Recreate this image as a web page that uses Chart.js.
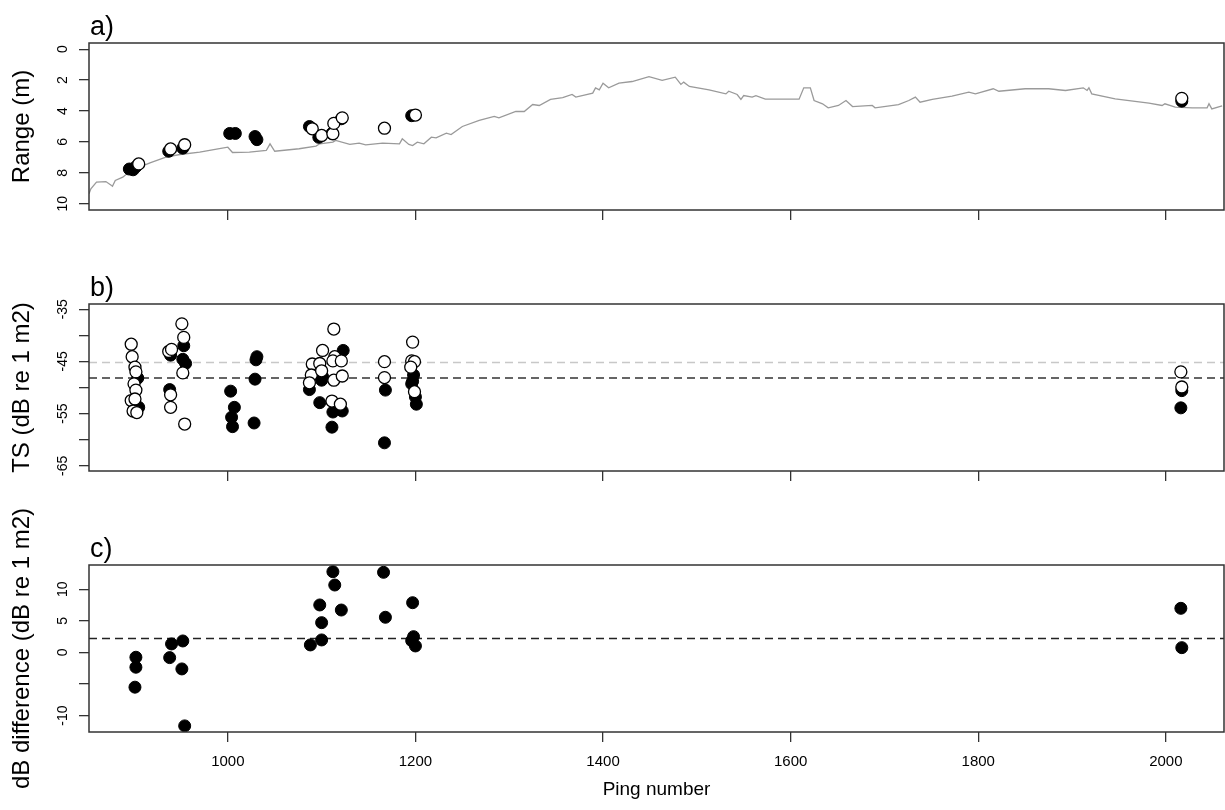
<!DOCTYPE html>
<html>
<head>
<meta charset="utf-8">
<script src="https://cdn.jsdelivr.net/npm/chart.js@4.4.1/dist/chart.umd.min.js"></script>
<style>
  html, body { margin: 0; padding: 0; background: #fff; }
  #wrap { position: relative; width: 1225px; height: 810px; }
  canvas { position: absolute; left: 0; top: 0; }
</style>
</head>
<body>
<div id="wrap">
  <canvas id="chartA" width="1225" height="810"></canvas>
  <canvas id="chartB" width="1225" height="810"></canvas>
  <canvas id="chartC" width="1225" height="810"></canvas>
</div>
<script>
// axis ticks
const pingTicks = [1000, 1200, 1400, 1600, 1800, 2000];
const rangeTicks = [0, 2, 4, 6, 8, 10];
const rangeTickLabels = ['0', '2', '4', '6', '8', '10'];
const tsTicks = [-35, -40, -45, -50, -55, -60, -65];
const tsTickLabels = ['-35', '', '-45', '', '-55', '', '-65'];
const diffTicks = [-10, -5, 0, 5, 10];
const diffTickLabels = ['-10', '', '0', '5', '10'];

// a) bottom range line
const bottomPing = [852, 854, 860, 870, 876, 877, 880, 888, 899, 906, 917, 934, 949, 970, 988, 1000, 1005, 1023, 1041, 1045,
  1050, 1076, 1094, 1098, 1112, 1115, 1130, 1140, 1147, 1165, 1183, 1186, 1193, 1197, 1202, 1209, 1217, 1222, 1233, 1238,
  1250, 1268, 1284, 1289, 1307, 1316, 1325, 1332, 1344, 1357, 1367, 1371, 1389, 1392, 1396, 1400, 1406, 1417, 1431, 1449,
  1463, 1477, 1483, 1486, 1492, 1513, 1531, 1534, 1543, 1547, 1550, 1559, 1563, 1573, 1609, 1614, 1621, 1625, 1634, 1640,
  1651, 1659, 1666, 1687, 1690, 1715, 1726, 1733, 1738, 1751, 1772, 1790, 1797, 1816, 1822, 1850, 1875, 1893, 1912, 1916,
  1918, 1921, 1946, 1982, 1996, 1999, 2010, 2028, 2044, 2046, 2049, 2060];
const bottomRange = [9.35, 9.03, 8.6, 8.56, 8.82, 8.86, 8.49, 8.28, 7.74, 7.63, 7.35, 6.98, 6.81, 6.66, 6.47, 6.34, 6.68, 6.66, 6.55, 6.12,
  6.6, 6.44, 6.27, 6.12, 6.01, 5.9, 6.16, 6.08, 6.19, 6.08, 6.12, 5.8, 6.16, 6.23, 6.01, 6.12, 5.69, 5.73, 5.43, 5.52,
  5.0, 4.61, 4.35, 4.44, 4.03, 4.03, 3.58, 3.64, 3.25, 3.14, 2.93, 3.1, 2.84, 2.5, 2.63, 2.2, 2.5, 2.2, 2.09, 1.77,
  2.02, 1.81, 2.28, 2.13, 2.41, 2.63, 2.89, 2.72, 2.93, 3.25, 3.0, 3.1, 3.0, 3.23, 3.23, 2.5, 2.5, 3.32, 3.53, 3.79,
  3.64, 3.32, 3.71, 3.64, 3.79, 3.58, 3.32, 3.1, 3.43, 3.25, 3.04, 2.78, 2.89, 2.56, 2.72, 2.56, 2.56, 2.67, 2.5, 2.67,
  2.5, 2.89, 3.21, 3.49, 3.64, 3.53, 3.75, 3.79, 3.79, 3.53, 3.86, 3.66];

// a) target ranges
const rangeFilledPing = [895, 899, 902, 937, 952, 1002, 1008, 1029, 1031, 1087, 1097, 1111, 1121, 1196, 2017];
const rangeFilled = [7.75, 7.8, 7.6, 6.6, 6.4, 5.45, 5.45, 5.65, 5.85, 5.0, 5.7, 5.45, 4.5, 4.3, 3.36];
const rangeOpenPing = [905, 939, 954, 1090, 1100, 1112, 1113, 1122, 1167, 1200, 2017];
const rangeOpen = [7.42, 6.45, 6.18, 5.15, 5.58, 5.47, 4.8, 4.44, 5.11, 4.26, 3.18];

// b) target strength
const tsOpenPing = [897, 898, 901, 902, 900, 902, 897, 901, 899, 903,
  937, 940, 939, 939, 951, 953, 952, 954,
  1113, 1101, 1090, 1098, 1114, 1112, 1121, 1089, 1100, 1113, 1122, 1087, 1111, 1120,
  1167, 1167, 1197, 1196, 1199, 1195, 1199, 2016, 2017];
const tsOpen = [-41.7, -44.1, -46.1, -47.0, -49.3, -50.5, -52.5, -52.2, -54.5, -54.8,
  -43.1, -42.7, -51.4, -53.8, -37.8, -40.4, -47.2, -57.0,
  -38.8, -42.9, -45.5, -45.4, -44.1, -44.9, -44.9, -47.6, -46.8, -48.6, -47.8, -49.1, -52.6, -53.2,
  -45.05, -48.1, -41.3, -44.9, -45.05, -46.1, -50.8, -47.0, -49.9];
const tsFilledPing = [904, 905, 939, 938, 953, 952, 955,
  1003, 1007, 1004, 1005, 1031, 1030, 1029, 1028,
  1123, 1100, 1101, 1087, 1098, 1112, 1122, 1111,
  1168, 1167, 1198, 1197, 1200, 1201, 1196, 2017, 2016];
const tsFilled = [-48.2, -53.8, -43.8, -50.4, -42.0, -44.6, -45.4,
  -50.7, -53.8, -55.7, -57.5, -44.1, -44.7, -48.4, -56.8,
  -42.9, -48.6, -47.9, -50.4, -52.9, -54.7, -54.5, -57.6,
  -50.5, -60.6, -47.6, -48.8, -51.8, -53.2, -49.3, -50.6, -53.9];
const tsMeanOpen = -45.2;
const tsMeanFilled = -48.2;

// c) dB difference
const diffPing = [901, 902, 902, 938, 940, 952, 951, 954, 1088, 1100, 1100, 1098, 1112, 1114, 1121, 1166, 1168, 1197, 1198, 1196, 1200, 2016, 2017];
const diffValues = [-5.5, -0.76, -2.34, -0.82, 1.35, 1.82, -2.61, -11.63, 1.19, 1.98, 4.72, 7.52, 12.79, 10.68, 6.72, 12.69, 5.57, 7.88, 2.5, 1.87, 1.03, 6.99, 0.76];
const diffMean = 2.2;

const pingMin = 852, pingMax = 2062;
const FONT = '"Liberation Sans", Arial, Helvetica, sans-serif';

const toXY = (xs, ys) => xs.map((x, i) => ({ x, y: ys[i] }));

// box, rotated y labels, panel letters and axis titles
const framePlugin = {
  id: 'frame',
  afterDraw(chart, args, opts) {
    const { ctx, chartArea: a, scales } = chart;
    ctx.save();
    ctx.strokeStyle = '#333';
    ctx.lineWidth = 1.5;
    ctx.strokeRect(a.left, a.top, a.right - a.left, a.bottom - a.top);

    ctx.fillStyle = '#000';
    ctx.textAlign = 'center';
    ctx.textBaseline = 'middle';
    ctx.font = '14px ' + FONT;
    scales.y.ticks.forEach((t, i) => {
      const label = opts.yLabels[i];
      if (!label) return;
      const py = scales.y.getPixelForValue(t.value);
      ctx.save();
      ctx.translate(63, py);
      ctx.rotate(-Math.PI / 2);
      ctx.fillText(label, 0, 0);
      ctx.restore();
    });

    ctx.font = '24px ' + FONT;
    ctx.save();
    ctx.translate(22, (a.top + a.bottom) / 2);
    ctx.rotate(-Math.PI / 2);
    ctx.fillText(opts.yTitle, 0, 0);
    ctx.restore();

    if (opts.xTitle) {
      ctx.font = '19px ' + FONT;
      ctx.fillText(opts.xTitle, (a.left + a.right) / 2, a.bottom + 58);
    }

    ctx.font = '27px ' + FONT;
    ctx.textAlign = 'left';
    ctx.textBaseline = 'alphabetic';
    ctx.fillText(opts.letter, a.left + 1, a.top - 8);
    ctx.restore();
  }
};

const openStyle = { pointRadius: 6, pointBackgroundColor: '#fff', pointBorderColor: '#000', pointBorderWidth: 1.3 };
const filledStyle = { pointRadius: 6, pointBackgroundColor: '#000', pointBorderColor: '#000', pointBorderWidth: 1 };

function hline(value, color) {
  return {
    type: 'line',
    data: [{ x: pingMin, y: value }, { x: pingMax, y: value }],
    showLine: true,
    borderColor: color,
    borderWidth: 1.5,
    borderDash: [8, 5],
    pointRadius: 0,
    order: 5
  };
}

function makeChart(id, datasets, cfg) {
  return new Chart(document.getElementById(id), {
    type: 'scatter',
    data: { datasets },
    options: {
      responsive: false,
      animation: false,
      events: [],
      layout: { autoPadding: false, padding: cfg.padding },
      scales: {
        x: {
          type: 'linear',
          min: pingMin,
          max: pingMax,
          afterBuildTicks: s => { s.ticks = pingTicks.map(v => ({ value: v })); },
          afterFit: s => { s.height = cfg.xHeight; },
          grid: { drawOnChartArea: false, drawTicks: true, tickLength: 10, color: '#333', lineWidth: 1.3 },
          border: { display: false },
          ticks: {
            display: cfg.showX,
            padding: 11,
            color: '#000',
            font: { size: 15, family: FONT },
            callback: v => String(v)
          }
        },
        y: {
          type: 'linear',
          min: cfg.yMin,
          max: cfg.yMax,
          reverse: !!cfg.reverse,
          afterBuildTicks: s => { s.ticks = cfg.yTicks.map(v => ({ value: v })); },
          afterFit: s => { s.width = 10; },
          grid: { drawOnChartArea: false, drawTicks: true, tickLength: 10, color: '#333', lineWidth: 1.3 },
          border: { display: false },
          ticks: { display: false }
        }
      },
      plugins: {
        legend: { display: false },
        tooltip: { enabled: false },
        frame: { letter: cfg.letter, yTitle: cfg.yTitle, yLabels: cfg.yLabels, xTitle: cfg.xTitle }
      }
    },
    plugins: [framePlugin]
  });
}

makeChart('chartA', [
  Object.assign({ data: toXY(rangeOpenPing, rangeOpen), order: 0 }, openStyle),
  Object.assign({ data: toXY(rangeFilledPing, rangeFilled), order: 1 }, filledStyle),
  {
    type: 'line',
    data: toXY(bottomPing, bottomRange),
    showLine: true,
    borderColor: '#9a9a9a',
    borderWidth: 1.3,
    pointRadius: 0,
    tension: 0,
    order: 5
  }
], {
  padding: { top: 43, left: 79, right: 1, bottom: 590 },
  xHeight: 10, showX: false,
  yMin: -0.4, yMax: 10.4, reverse: true,
  yTicks: rangeTicks, yLabels: rangeTickLabels,
  letter: 'a)', yTitle: 'Range (m)'
});

makeChart('chartB', [
  Object.assign({ data: toXY(tsOpenPing, tsOpen), order: 0 }, openStyle),
  Object.assign({ data: toXY(tsFilledPing, tsFilled), order: 1 }, filledStyle),
  hline(tsMeanOpen, '#c8c8c8'),
  hline(tsMeanFilled, '#333')
], {
  padding: { top: 304, left: 79, right: 1, bottom: 329 },
  xHeight: 10, showX: false,
  yMin: -66, yMax: -34,
  yTicks: tsTicks, yLabels: tsTickLabels,
  letter: 'b)', yTitle: 'TS (dB re 1 m2)'
});

makeChart('chartC', [
  Object.assign({ data: toXY(diffPing, diffValues), order: 1 }, filledStyle),
  hline(diffMean, '#222')
], {
  padding: { top: 565, left: 79, right: 1, bottom: 38 },
  xHeight: 40, showX: true,
  yMin: -12.6, yMax: 13.85,
  yTicks: diffTicks, yLabels: diffTickLabels,
  letter: 'c)', yTitle: 'dB difference (dB re 1 m2)', xTitle: 'Ping number'
});
</script>
</body>
</html>
